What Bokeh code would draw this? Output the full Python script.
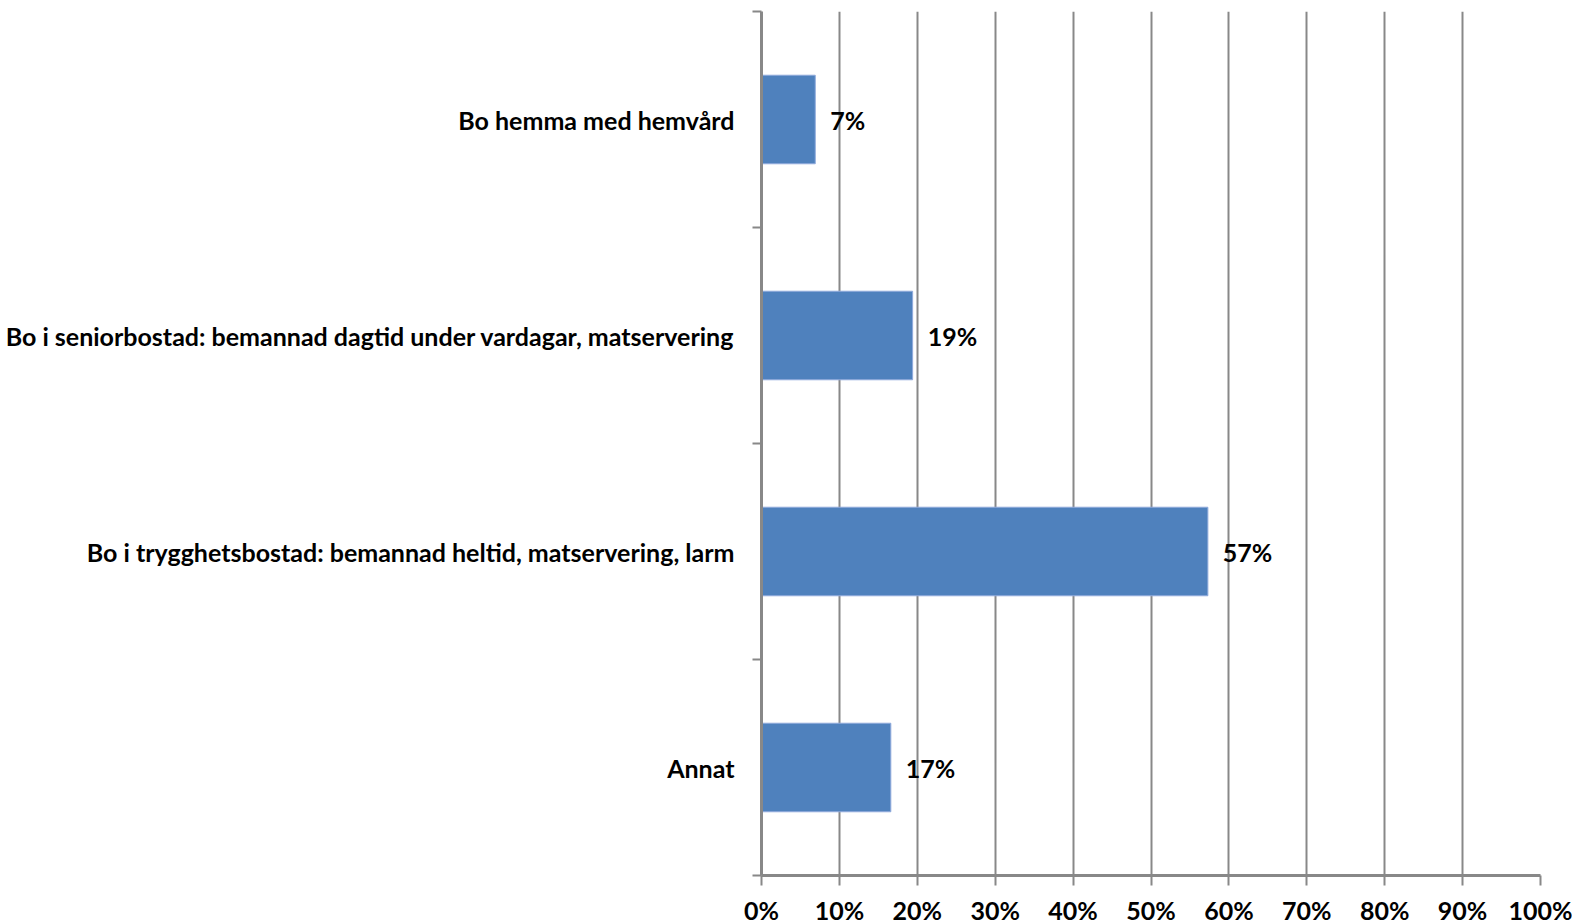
from bokeh.plotting import figure
from bokeh.models import Range1d, FixedTicker, ColumnDataSource
from bokeh.core.properties import value
from bokeh.embed import file_html
from bokeh.resources import INLINE

categories = ["Bo hemma med hemvård",
              "Bo i seniorbostad: bemannad dagtid under vardagar, matservering",
              "Bo i trygghetsbostad: bemannad heltid, matservering, larm",
              "Annat"]
values = [6.9, 19.4, 57.3, 16.6]
value_labels = ["7%", "19%", "57%", "17%"]
x_ticks = [0, 10, 20, 30, 40, 50, 60, 70, 80, 90, 100]

FONT = "Lato"
FSIZE = "25px"
GRAY = "#888888"
n = len(categories)
ypos = [n - i - 0.5 for i in range(n)]

p = figure(frame_width=779, frame_height=864, output_backend="svg", toolbar_location=None,
           x_range=Range1d(0, 100), y_range=Range1d(0, n),
           min_border_left=761, min_border_right=32, min_border_top=11, min_border_bottom=0)
p.outline_line_color = None
p.background_fill_color = "white"
p.border_fill_color = "white"

src = ColumnDataSource(dict(y=ypos, v=values, lab=value_labels, cat=categories))
p.hbar(y="y", right="v", left=0, height=0.41, source=src, fill_color="#4F81BD",
       line_color="#8FAADC", line_width=1)
p.text(x="v", y="y", text="lab", source=src, x_offset=15, text_align="left",
       text_baseline="middle", text_font=value(FONT), text_font_style="bold",
       text_font_size=FSIZE, text_color="black")

# x axis
p.xaxis.ticker = FixedTicker(ticks=x_ticks, minor_ticks=[])
p.xaxis.major_label_overrides = {t: f"{t}%" for t in x_ticks}
p.xaxis.axis_line_color = GRAY
p.xaxis.axis_line_width = 3
p.xaxis.major_tick_line_color = GRAY
p.xaxis.major_tick_line_width = 2
p.xaxis.major_tick_out = 10
p.xaxis.major_tick_in = 0
p.xaxis.minor_tick_line_color = None
p.xaxis.major_label_text_font = FONT
p.xaxis.major_label_text_font_style = "bold"
p.xaxis.major_label_text_font_size = FSIZE
p.xaxis.major_label_text_color = "black"
p.xaxis.major_label_standoff = 9

# y axis: labels at category centers, tick marks at boundaries
p.yaxis.ticker = FixedTicker(ticks=ypos, minor_ticks=list(range(n + 1)))
p.yaxis.major_label_overrides = {y: c for y, c in zip(ypos, categories)}
p.yaxis.axis_line_color = GRAY
p.yaxis.axis_line_width = 3
p.yaxis.major_tick_line_color = None
p.yaxis.major_tick_out = 0
p.yaxis.major_tick_in = 0
p.yaxis.minor_tick_line_color = GRAY
p.yaxis.minor_tick_line_width = 2
p.yaxis.minor_tick_out = 9
p.yaxis.minor_tick_in = 0
p.yaxis.major_label_text_font = FONT
p.yaxis.major_label_text_font_style = "bold"
p.yaxis.major_label_text_font_size = FSIZE
p.yaxis.major_label_text_color = "black"
p.yaxis.major_label_standoff = 18

p.xgrid.ticker = FixedTicker(ticks=x_ticks)
p.xgrid.grid_line_color = GRAY
p.xgrid.grid_line_width = 2
p.ygrid.grid_line_color = None

open("out.html", "w").write(file_html(p, INLINE))
